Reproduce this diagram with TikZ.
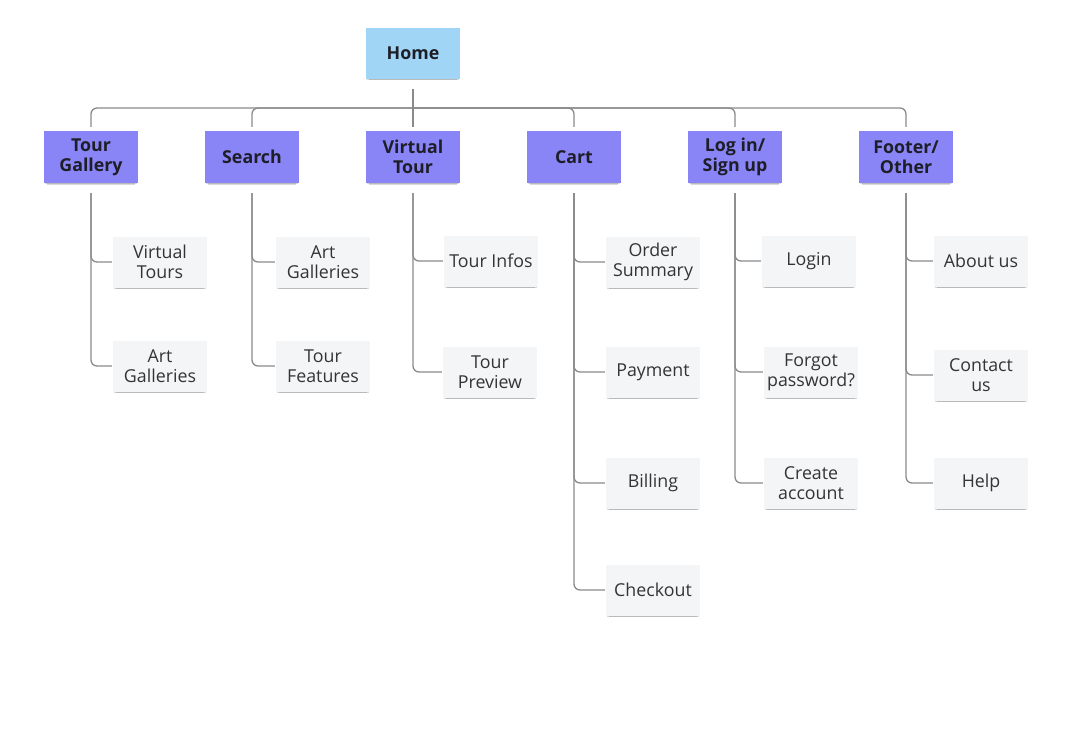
\documentclass[tikz,border=0pt]{standalone}
\usepackage{fontspec}
\setmainfont{Open Sans}
\usepackage{tikz}
\usetikzlibrary{positioning, shadows}
\definecolor{homeblue}{HTML}{A0D5F5}
\definecolor{topicpurple}{HTML}{8A85F6}
\definecolor{pagegray}{HTML}{F4F5F7}
\definecolor{linkgray}{HTML}{8A8A8A}
\definecolor{inkdark}{HTML}{1E1E28}
\definecolor{inkgray}{HTML}{343434}

\begin{document}
\begin{tikzpicture}[x=1pt, y=-1pt,
    note/.style={inner sep=0pt, minimum width=94pt, minimum height=51pt, align=center,
        drop shadow={shadow xshift=0pt, shadow yshift=-2pt, shadow scale=0.98, opacity=0.15, fill=black},
        drop shadow={shadow xshift=0pt, shadow yshift=-4pt, shadow scale=0.93, opacity=0.15, fill=black}},
    home/.style={note, fill=homeblue, text=inkdark, font=\fontsize{17.8}{20}\selectfont\bfseries},
    topic/.style={note, fill=topicpurple, minimum height=52pt, text=inkdark, font=\fontsize{17.8}{20}\selectfont\bfseries},
    page/.style={note, fill=pagegray, text=inkgray, font=\fontsize{17.8}{20}\selectfont},
    link/.style={draw=linkgray, line width=1.3pt, rounded corners=6pt}]
    \useasboundingbox (0,0) rectangle (1083,732);

    % ── ROOT ──────────────────────────────────────────────────────────
    \node[home] (home) at (413, 53) {Home};
    \coordinate (bus) at (413, 108);

    % ── SECTIONS ──────────────────────────────────────────────────────
    \node[topic] (tg)  at (91, 157)  {Tour\\Gallery};
    \node[topic] (sr)  at (252, 157) {Search};
    \node[topic] (vt)  at (413, 157) {Virtual\\Tour};
    \node[topic] (ct)  at (574, 157) {Cart};
    \node[topic] (lg)  at (735, 157) {Log in/\\Sign up};
    \node[topic] (ft)  at (906, 157) {Footer/\\Other};

    % ── PAGES ─────────────────────────────────────────────────────────
    \node[page] (tga) at (160, 262) {Virtual\\Tours};
    \node[page] (tgb) at (160, 366) {Art\\Galleries};
    \node[page] (sra) at (323, 262) {Art\\Galleries};
    \node[page] (srb) at (323, 366) {Tour\\Features};
    \node[page] (vta) at (491, 261) {Tour Infos};
    \node[page] (vtb) at (490, 372) {Tour\\Preview};
    \node[page] (cta) at (653, 262) {Order\\Summary};
    \node[page] (ctb) at (653, 372) {Payment};
    \node[page] (ctc) at (653, 483) {Billing};
    \node[page] (ctd) at (653, 590) {Checkout};
    \node[page] (lga) at (809, 261) {Login};
    \node[page] (lgb) at (811, 372) {Forgot\\password?};
    \node[page] (lgc) at (811, 483) {Create\\account};
    \node[page] (fta) at (981, 261) {About us};
    \node[page] (ftb) at (981, 375) {Contact\\us};
    \node[page] (ftc) at (981, 483) {Help};

    % ── CONNECTORS ────────────────────────────────────────────────────
    \draw[link, shorten <=10pt, shorten >=4pt] (home.south) -- (vt.north);
    \draw[link, shorten <=4pt, shorten >=4pt] (tg.north) |- (bus) -| (ft.north);
    \foreach \sect in {sr, ct, lg}{
        \draw[link, shorten <=4pt] (\sect.north) |- (bus);
    }
    \foreach \up/\kid in {tg/tga, tg/tgb, sr/sra, sr/srb, vt/vta, vt/vtb,
                          ct/cta, ct/ctb, ct/ctc, ct/ctd, lg/lga, lg/lgb, lg/lgc,
                          ft/fta, ft/ftb, ft/ftc}{
        \draw[link, shorten <=10pt, shorten >=1pt] (\up.south) |- (\kid.west);
    }
\end{tikzpicture}
\end{document}
